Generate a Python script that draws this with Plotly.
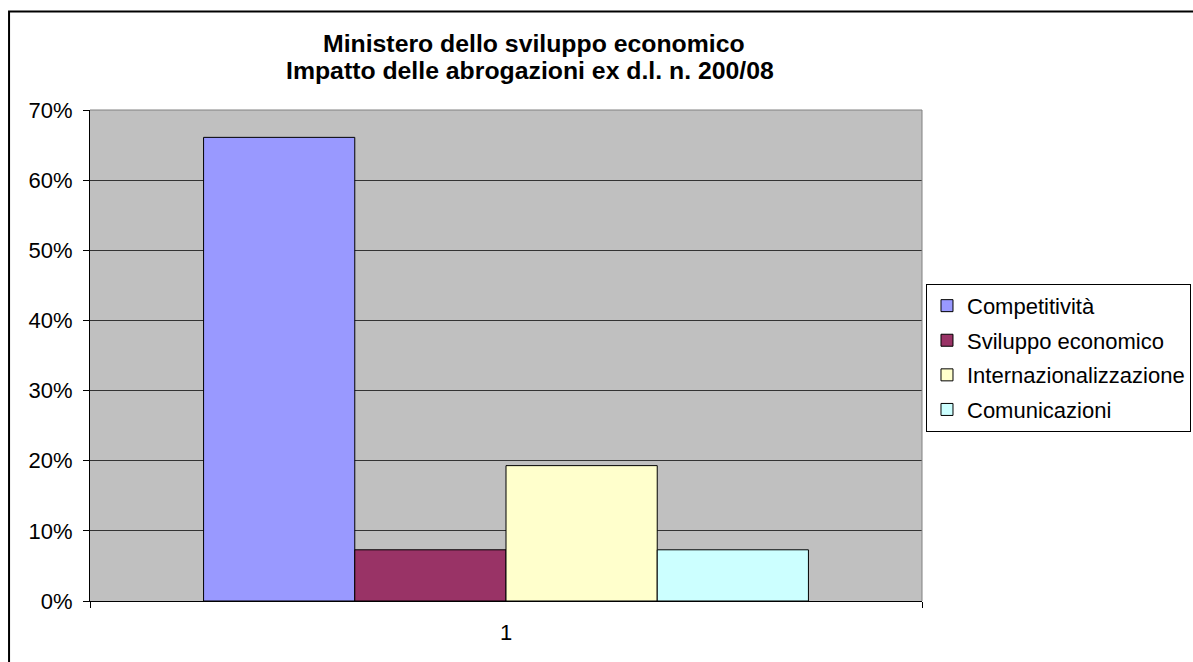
import plotly.graph_objects as go

categories = ["1"]
series_names = ["Competitività", "Sviluppo economico", "Internazionalizzazione", "Comunicazioni"]
series_values = [0.661, 0.073, 0.193, 0.073]
series_colors = ["#9999FF", "#993366", "#FFFFCC", "#CCFFFF"]
title_lines = ["Ministero dello sviluppo economico", "Impatto delle abrogazioni ex d.l. n. 200/08"]

W, H = 1193, 662
L, R, T, B = 89.5, 922.0, 110.0, 601.3

def px_x(p):
    return (p - L) / (R - L)

def px_y(p):
    return (B - p) / (B - T)

FONT = "Liberation Sans, Arial, sans-serif"

fig = go.Figure()
for name, val, col in zip(series_names, series_values, series_colors):
    fig.add_trace(go.Bar(
        x=categories, y=[val], name=name,
        marker=dict(color=col, line=dict(color="black", width=1)),
        legendgroup=name,
    ))

fig.update_layout(
    width=W, height=H,
    margin=dict(l=L, r=W - R, t=T, b=H - B, pad=0, autoexpand=False),
    paper_bgcolor="white",
    plot_bgcolor="#C0C0C0",
    barmode="group",
    bargap=0.273,
    bargroupgap=0,
    font=dict(family=FONT, size=22, color="black"),
    showlegend=True,
    legend=dict(
        x=px_x(926), xanchor="left",
        y=px_y(358), yanchor="middle",
        bordercolor="black", borderwidth=1, bgcolor="white",
        font=dict(family=FONT, size=22, color="black"),
        tracegroupgap=3,
    ),
    xaxis=dict(
        type="category",
        showline=True, linecolor="black", linewidth=1,
        ticks="outside", tickson="boundaries", ticklen=6, tickcolor="black",
        showgrid=False,
        ticklabelstandoff=12,
        tickfont=dict(family=FONT, size=22, color="black"),
    ),
    yaxis=dict(
        range=[0, 0.7], dtick=0.1, tickformat=".0%",
        showline=True, linecolor="black", linewidth=1,
        ticks="outside", ticklen=6, tickcolor="black",
        showgrid=True, gridcolor="#333333", gridwidth=1,
        zeroline=False,
        ticklabelstandoff=6,
        tickfont=dict(family=FONT, size=22, color="black"),
    ),
    shapes=[
        dict(type="line", xref="paper", yref="paper", x0=0, x1=1, y0=1, y1=1,
             line=dict(color="#808080", width=1), layer="above"),
        dict(type="line", xref="paper", yref="paper", x0=1, x1=1, y0=0, y1=1,
             line=dict(color="#808080", width=1), layer="above"),
        dict(type="rect", xref="paper", yref="paper",
             x0=px_x(8.5), x1=px_x(1260), y0=px_y(720), y1=px_y(11.5),
             line=dict(color="black", width=2), fillcolor="rgba(0,0,0,0)", layer="above"),
    ],
    annotations=[
        dict(text="<b>%s</b>" % title_lines[0], xref="paper", yref="paper",
             x=px_x(534), y=px_y(43.5), xanchor="center", yanchor="middle",
             showarrow=False, font=dict(family=FONT, size=24.8, color="black")),
        dict(text="<b>%s</b>" % title_lines[1], xref="paper", yref="paper",
             x=px_x(530), y=px_y(70), xanchor="center", yanchor="middle",
             showarrow=False, font=dict(family=FONT, size=24.8, color="black")),
    ],
)

fig.write_html(
    "out.html",
    config={"displayModeBar": False},
    post_script="document.body.style.margin='0';document.body.style.overflow='hidden';",
)
